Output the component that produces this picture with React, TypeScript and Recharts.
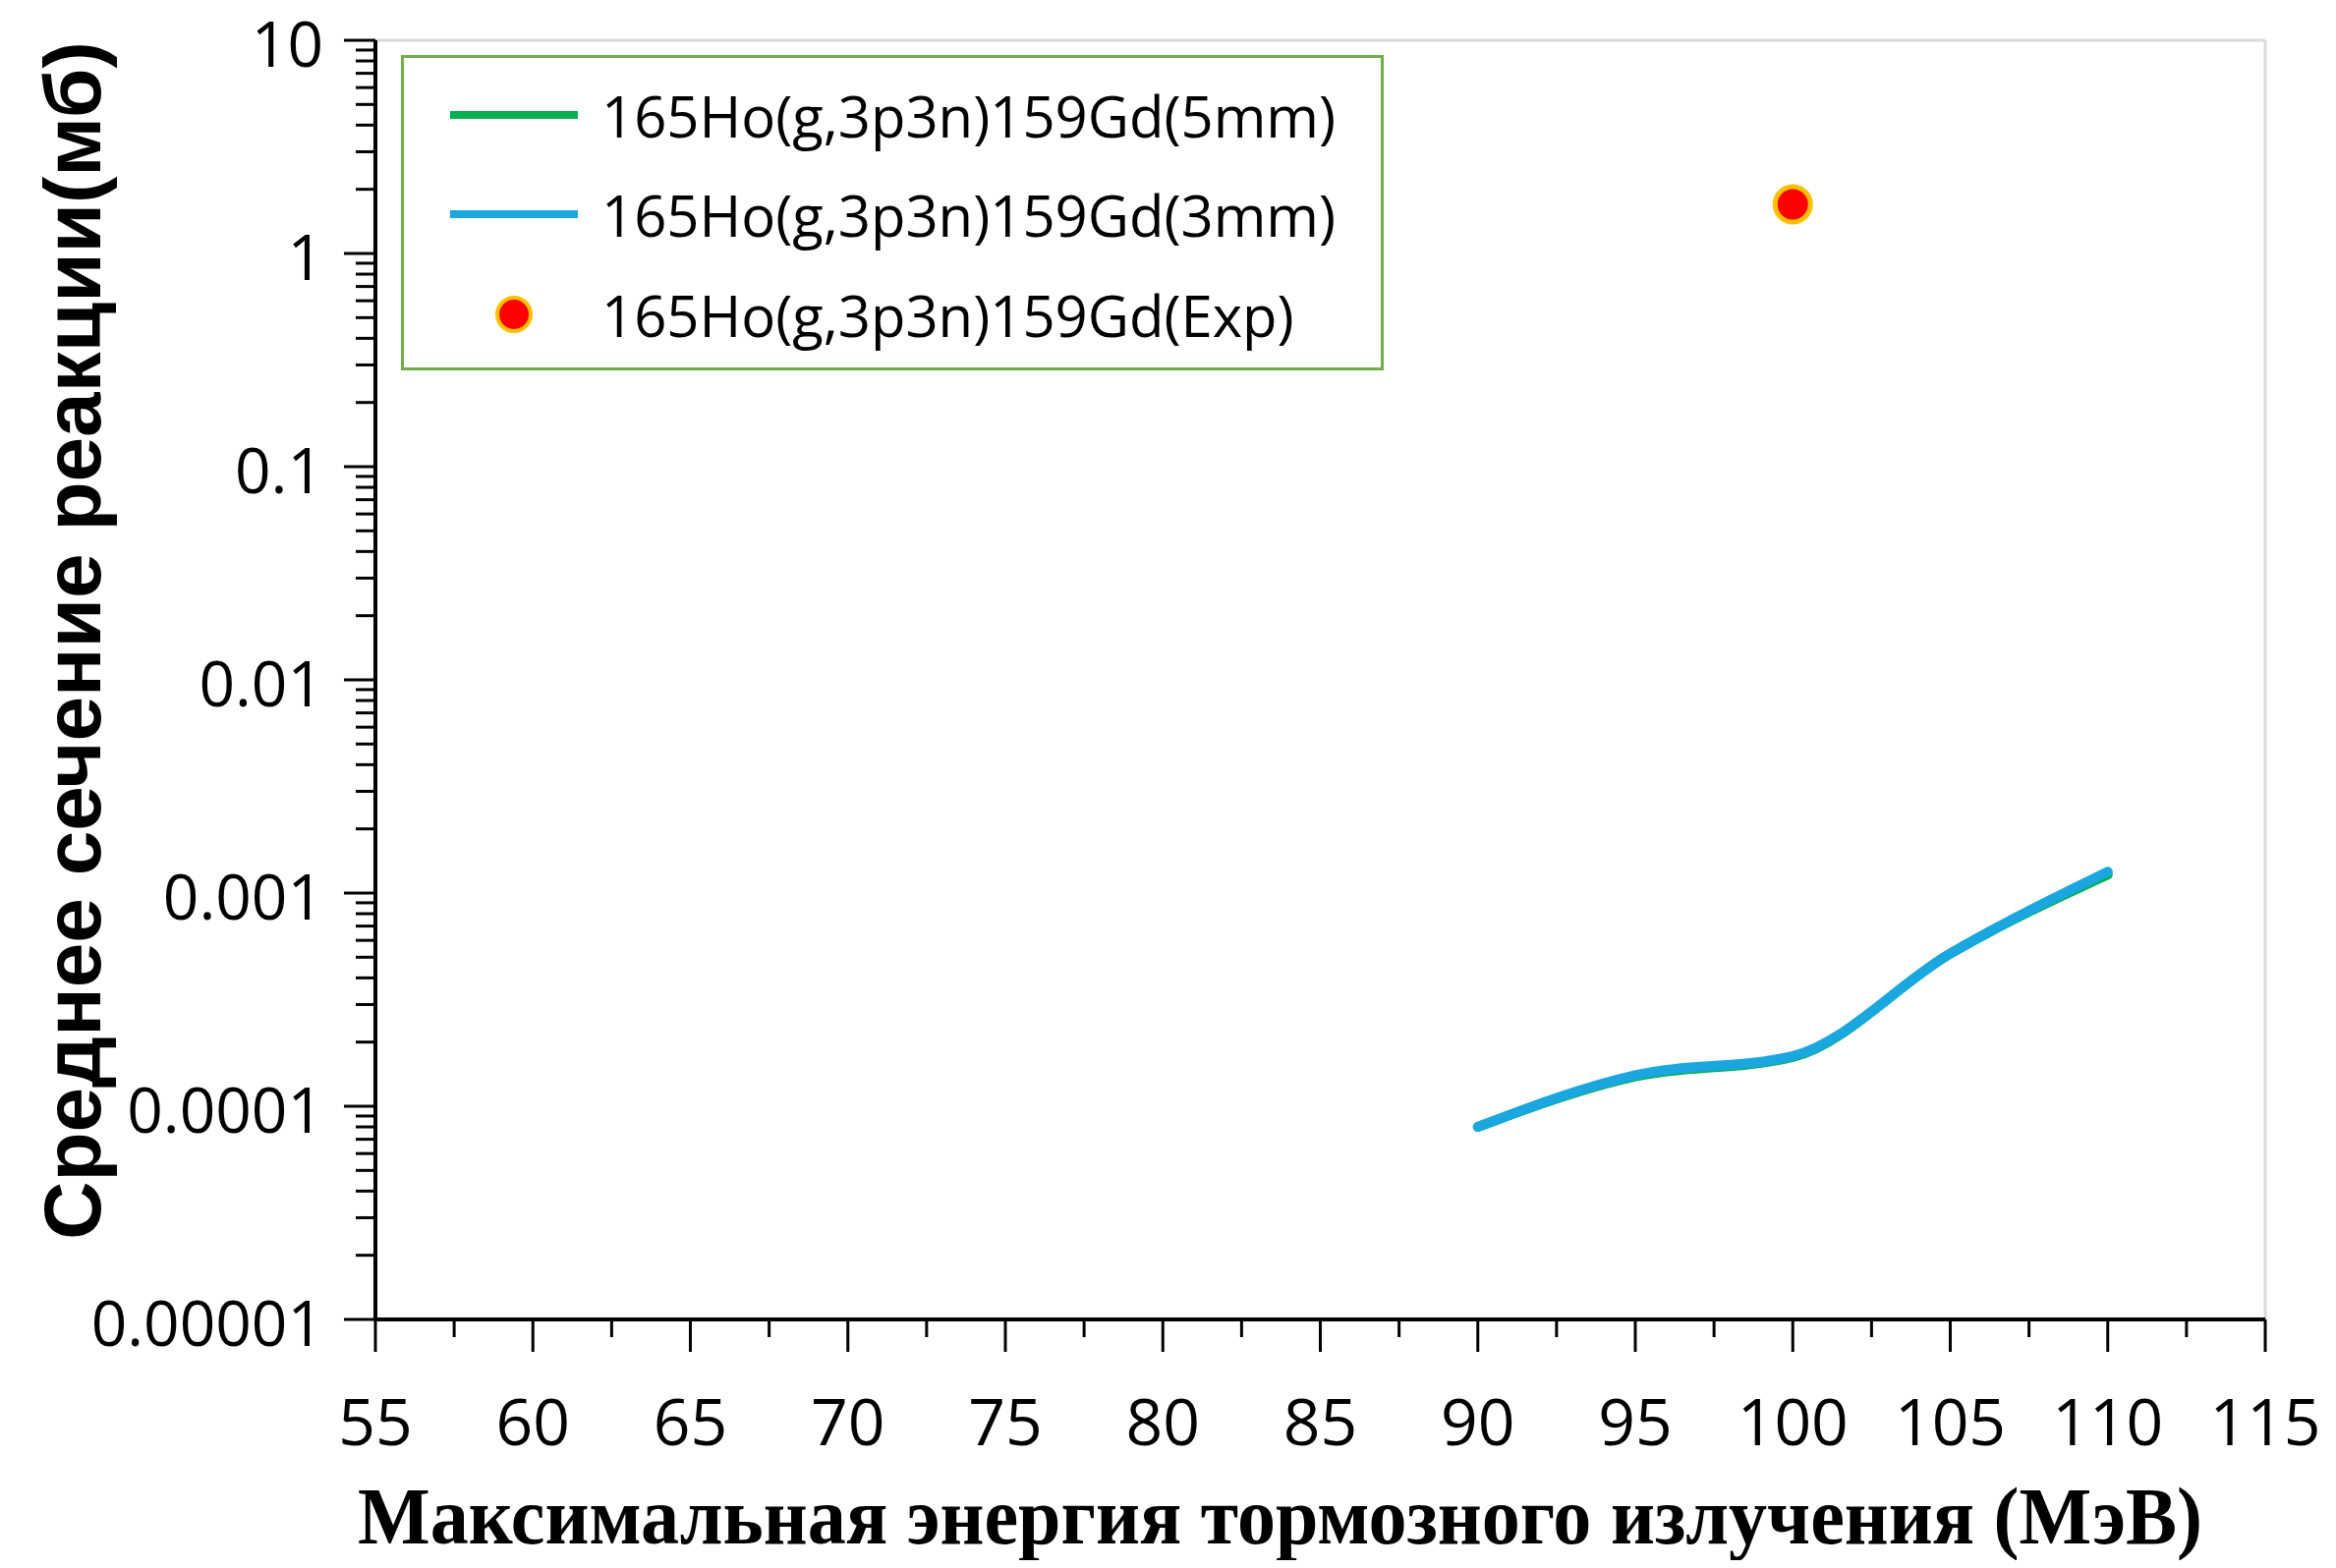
import React from "react"
import { ComposedChart, Line, Scatter, XAxis, YAxis, Legend, ReferenceLine, Label } from "recharts"

// photon end-point energy (MeV) and flux-averaged cross section (mb)
const energy = [90, 95, 100, 105, 110]
const sigma5mm = [0.00008, 0.000138, 0.00017, 0.00052, 0.00122]
const sigma3mm = [0.00008, 0.00014, 0.000172, 0.00052, 0.00126]
const expEnergy = [100]
const expSigma = [1.7]

const seriesNames = [
  "165Ho(g,3p3n)159Gd(5mm)",
  "165Ho(g,3p3n)159Gd(3mm)",
  "165Ho(g,3p3n)159Gd(Exp)",
]
const colors = ["#00B050", "#1AA7E0", "#FF0000"]

const xTicks = [55, 60, 65, 70, 75, 80, 85, 90, 95, 100, 105, 110, 115]
const yTicks = [0.00001, 0.0001, 0.001, 0.01, 0.1, 1, 10]
const yTickLabels = ["0.00001", "0.0001", "0.001", "0.01", "0.1", "1", "10"]

const xTitle = "Максимальная энергия тормозного излучения (МэВ)"
const yTitle = "Среднее сечение реакции(мб)"

const data5 = energy.map((e, i) => ({ energy: e, sigma: sigma5mm[i] }))
const data3 = energy.map((e, i) => ({ energy: e, sigma: sigma3mm[i] }))
const dataExp = expEnergy.map((e, i) => ({ energy: e, sigma: expSigma[i] }))

// minor ticks like Excel: halfway on x, 2..9 per decade on the log y axis
const xMinor = xTicks.slice(0, -1).map((t) => t + 2.5)
const allX = [...xTicks, ...xMinor].sort((a, b) => a - b)
const yMinor = yTicks.slice(0, -1).flatMap((t) => [2, 3, 4, 5, 6, 7, 8, 9].map((k) => k * t))
const allY = [...yTicks, ...yMinor].sort((a, b) => a - b)

const tickFont = "'Open Sans', 'Noto Sans', sans-serif"

const renderXTick = (props: any) => {
  const { x, y, payload } = props
  const major = xTicks.indexOf(payload.value) >= 0
  return (
    <g>
      <line x1={x} x2={x} y1={y} y2={y + (major ? 33 : 18)} stroke="#000" strokeWidth={3} />
      {major && (
        <text x={x} y={y + 102} textAnchor="middle" dominantBaseline="central" fontSize={66} fontFamily={tickFont} fill="#000">
          {payload.value}
        </text>
      )}
    </g>
  )
}

const renderYTick = (props: any) => {
  const { x, y, payload } = props
  const idx = yTicks.findIndex((t) => Math.abs(t - payload.value) / t < 1e-6)
  const major = idx >= 0
  return (
    <g>
      <line x1={x - (major ? 32 : 20)} x2={x} y1={y} y2={y} stroke="#000" strokeWidth={3} />
      {major && (
        <text x={x - 53} y={y + 2} textAnchor="end" dominantBaseline="central" fontSize={64} fontFamily={tickFont} fill="#000">
          {yTickLabels[idx]}
        </text>
      )}
    </g>
  )
}

const renderLegend = () => (
  <div
    style={{
      width: 1000,
      height: 321,
      boxSizing: "border-box",
      border: "3px solid #70AD47",
      background: "#fff",
      position: "relative",
      fontFamily: tickFont,
      fontSize: 58,
      color: "#000",
    }}
  >
    {seriesNames.map((name, i) => (
      <div
        key={name}
        style={{ position: "absolute", left: 44, top: [58, 159, 261][i] - 40, height: 80, display: "flex", alignItems: "center" }}
      >
        <svg width={136} height={40}>
          {i < 2 ? (
            <line x1={3} x2={133} y1={20} y2={20} stroke={colors[i]} strokeWidth={8} />
          ) : (
            <circle cx={68} cy={20} r={17} fill={colors[2]} stroke="#FFC000" strokeWidth={4} />
          )}
        </svg>
        <span style={{ marginLeft: 21, whiteSpace: "nowrap" }}>{name}</span>
      </div>
    ))}
  </div>
)

export default function App() {
  return (
    <div style={{ margin: -8, width: 2377, height: 1596, background: "#fff" }}>
      <ComposedChart width={2377} height={1596} margin={{ top: 41, right: 72, bottom: 53, left: 82 }}>
        <XAxis
          type="number"
          dataKey="energy"
          domain={[55, 115]}
          ticks={allX}
          interval={0}
          allowDataOverflow
          height={200}
          tickSize={0}
          tickMargin={0}
          tickLine={false}
          axisLine={{ stroke: "#000", strokeWidth: 4 }}
          tick={renderXTick}
        >
          <Label
            content={(p: any) => {
              const vb = p.viewBox
              return (
                <text
                  x={vb.x + vb.width / 2 - 41}
                  y={vb.y + 228}
                  textAnchor="middle"
                  fontFamily="'Liberation Serif', 'Times New Roman', serif"
                  fontWeight="bold"
                  fontSize={82}
                  textLength={1877}
                  lengthAdjust="spacingAndGlyphs"
                  fill="#000"
                >
                  {xTitle}
                </text>
              )
            }}
          />
        </XAxis>
        <YAxis
          scale="log"
          domain={[0.00001, 10]}
          ticks={allY}
          interval={0}
          allowDataOverflow
          width={300}
          tickSize={0}
          tickMargin={0}
          tickLine={false}
          axisLine={{ stroke: "#000", strokeWidth: 4 }}
          tick={renderYTick}
        >
          <Label
            content={(p: any) => {
              const vb = p.viewBox
              const cx = vb.x + 20
              const cy = vb.y + vb.height / 2 - 40
              return (
                <text
                  x={cx}
                  y={cy}
                  transform={`rotate(-90, ${cx}, ${cy})`}
                  textAnchor="middle"
                  fontFamily="'Liberation Sans', Arial, sans-serif"
                  fontWeight="bold"
                  fontSize={82}
                  fill="#000"
                >
                  {yTitle}
                </text>
              )
            }}
          />
        </YAxis>
        <ReferenceLine y={10} stroke="#D9D9D9" strokeWidth={3} />
        <ReferenceLine x={115} stroke="#D9D9D9" strokeWidth={3} />
        <Legend
          layout="vertical"
          align="center"
          verticalAlign="middle"
          wrapperStyle={{ left: 408, top: 56, width: 1000, height: 321 }}
          content={renderLegend}
        />
        <Line
          data={data5}
          dataKey="sigma"
          name={seriesNames[0]}
          type="monotone"
          stroke={colors[0]}
          strokeWidth={10}
          strokeLinecap="round"
          dot={false}
          isAnimationActive={false}
        />
        <Line
          data={data3}
          dataKey="sigma"
          name={seriesNames[1]}
          type="monotone"
          stroke={colors[1]}
          strokeWidth={10}
          strokeLinecap="round"
          dot={false}
          isAnimationActive={false}
        />
        <Scatter
          data={dataExp}
          dataKey="sigma"
          name={seriesNames[2]}
          isAnimationActive={false}
          shape={(p: any) => <circle cx={p.cx} cy={p.cy} r={18} fill={colors[2]} stroke="#FFC000" strokeWidth={5} />}
        />
      </ComposedChart>
    </div>
  )
}
